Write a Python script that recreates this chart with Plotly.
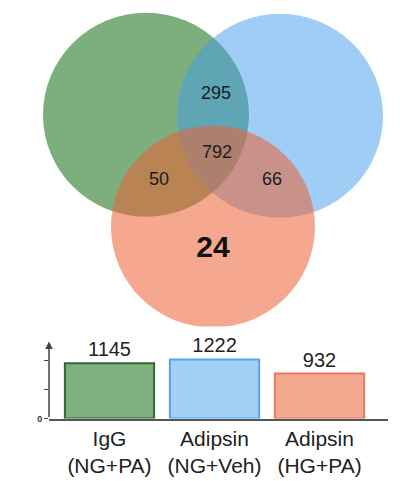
import plotly.graph_objects as go

# venn region counts
region_names = ['IgG & NG+Veh', 'all three', 'IgG & HG+PA', 'NG+Veh & HG+PA', 'HG+PA only']
region_counts = [295, 792, 50, 66, 24]

# bar chart: total per group
groups = ['IgG<br>(NG+PA)', 'Adipsin<br>(NG+Veh)', 'Adipsin<br>(HG+PA)']
group_totals = [1145, 1222, 932]
y_ticks = [0, 600, 1200]

# layout geometry (pixels of a 400 x 330 drawing area for the venn part)
circles = [  # cx, cy, r, fill
    (146, 116, 103, 'rgb(125,174,125)'),
    (280, 117, 103, 'rgba(65,155,235,0.5)'),
    (213, 229, 102, 'rgba(237,97,51,0.55)'),
]
label_pos = [(216, 95), (217, 155), (159, 182), (272, 182), (213, 252)]

bar_fill = ['#7fae7f', '#a3d0f7', '#f5a890']
bar_line = ['#2f6a30', '#55a4e6', '#e57a5c']

fig = go.Figure()

# venn: circles
shapes = []
for cx, cy, r, col in circles:
    shapes.append(dict(type='circle', xref='x', yref='y', x0=cx - r, x1=cx + r,
                       y0=cy - r, y1=cy + r, fillcolor=col, line=dict(width=0), layer='below'))

# venn labels
fig.add_trace(go.Scatter(
    x=[p[0] for p in label_pos[:4]], y=[p[1] for p in label_pos[:4]],
    text=[str(v) for v in region_counts[:4]], mode='text',
    textfont=dict(family='Arial, Liberation Sans', size=18, color='#1c1c24'),
    hoverinfo='skip', showlegend=False, xaxis='x', yaxis='y'))
fig.add_trace(go.Scatter(
    x=[label_pos[4][0]], y=[label_pos[4][1]], text=['<b>%d</b>' % region_counts[4]], mode='text',
    textfont=dict(family='Arial, Liberation Sans', size=30, color='#111111'),
    hoverinfo='skip', showlegend=False, xaxis='x', yaxis='y'))

# bars
fig.add_trace(go.Bar(
    x=[0, 1, 2], y=group_totals, width=0.85,
    marker=dict(color=bar_fill, line=dict(color=bar_line, width=2)),
    text=[str(v) for v in group_totals], textposition='outside', cliponaxis=False,
    textfont=dict(family='Arial, Liberation Sans', size=20, color='#222222'),
    showlegend=False, xaxis='x2', yaxis='y2'))

x_left = -0.576
fig.add_annotation(x=x_left, y=1595, ax=x_left, ay=0, xref='x2', yref='y2',
                   axref='x2', ayref='y2', showarrow=True, arrowhead=2,
                   arrowsize=1, arrowwidth=1.5, arrowcolor='#444444', text='')

fig.update_layout(
    width=400, height=481, margin=dict(l=0, r=0, t=0, b=0),
    paper_bgcolor='white', plot_bgcolor='rgba(0,0,0,0)',
    shapes=shapes,
    xaxis=dict(domain=[0, 1], range=[0, 400], visible=False, fixedrange=True),
    yaxis=dict(domain=[1 - 330 / 481, 1], range=[330, 0], visible=False, fixedrange=True),
    xaxis2=dict(domain=[49 / 400, 388 / 400], range=[x_left, 2.652], anchor='y2',
                tickvals=[0, 1, 2], ticktext=groups, ticks='', showline=True,
                linecolor='#555555', linewidth=2, showgrid=False, zeroline=False,
                tickfont=dict(family='Arial, Liberation Sans', size=21, color='#222222')),
    yaxis2=dict(domain=[(481 - 423) / 481, (481 - 345) / 481], range=[0, 1595], anchor='x2',
                tickvals=y_ticks, ticktext=['<b>0</b>', '', ''], ticks='outside', ticklen=4,
                tickcolor='#444444', showline=False, showgrid=False, zeroline=False,
                tickfont=dict(family='Arial, Liberation Sans', size=9, color='#333333')),
)

# drop the default page margin so the 400x481 figure fills the window
fig.write_html("out.html", config={'displayModeBar': False},
               post_script="document.body.style.margin='0';")
